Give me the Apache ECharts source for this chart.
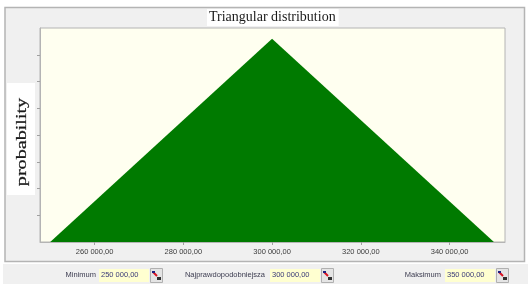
<!DOCTYPE html>
<html>
<head>
<meta charset="utf-8">
<style>html,body{margin:0;padding:0;background:#fff}#main{width:529px;height:288px}</style>
<script src="https://cdn.jsdelivr.net/npm/echarts@6/dist/echarts.min.js"></script>
</head>
<body>
<div id="main"></div>
<script>
var xValues = [250000, 300000, 350000];
var probability = [0, 7.6, 0];
var xTicks = [260000, 280000, 300000, 320000, 340000];
var yTicks = [1, 2, 3, 4, 5, 6, 7];
var paramLabels = ['Minimum', 'Najprawdopodobniejsza', 'Maksimum'];
var paramValues = ['250 000,00', '300 000,00', '350 000,00'];

var chart = echarts.init(document.getElementById('main'), null, {renderer: 'canvas'});

function formatX(v) {
    return String(v).replace(/\B(?=(\d{3})+$)/g, ' ') + ',00';
}

// one input row item: label, yellow field, small button
function param(i, labelRight, fieldLeft) {
    var y = 275;
    return [
        {type: 'text', z: 5, style: {x: labelRight, y: y, text: paramLabels[i], align: 'right', verticalAlign: 'middle',
            font: '7.5px "Liberation Sans"', fill: '#3c3c50'}},
        {type: 'rect', z: 5, shape: {x: fieldLeft, y: y - 6, width: 50, height: 13}, style: {fill: '#ffffd0'}},
        {type: 'text', z: 6, style: {x: fieldLeft + 2, y: y, text: paramValues[i], verticalAlign: 'middle',
            font: '7.5px "Liberation Sans"', fill: '#3a3a78'}},
        {type: 'rect', z: 5, shape: {x: fieldLeft + 51.5, y: y - 6.5, width: 12, height: 14}, style: {fill: '#e4e4e4', stroke: '#b0b0b0', lineWidth: 1}},
        {type: 'line', z: 6, shape: {x1: fieldLeft + 54, y1: y - 3, x2: fieldLeft + 58, y2: y + 1}, style: {stroke: '#d81020', lineWidth: 2}},
        {type: 'rect', z: 6, shape: {x: fieldLeft + 53, y: y - 4, width: 3, height: 2}, style: {fill: '#202080'}},
        {type: 'rect', z: 6, shape: {x: fieldLeft + 58, y: y + 2, width: 4, height: 3}, style: {fill: '#303030'}}
    ];
}

var option = {
    animation: false,
    backgroundColor: '#ffffff',
    title: {
        text: 'Triangular distribution',
        left: 207, top: 9,
        padding: [1, 3, 1, 2],
        backgroundColor: '#ffffff',
        textStyle: {fontFamily: 'Liberation Serif', fontWeight: 'normal', fontSize: 14, color: '#1a1a1a', lineHeight: 15}
    },
    graphic: [
        {type: 'rect', z: -10, shape: {x: 3, y: 264, width: 525, height: 20}, style: {fill: '#f0f0f0'}},
        {type: 'rect', z: -9, shape: {x: 5, y: 7.5, width: 519.5, height: 254}, style: {fill: '#f0f0f0', stroke: '#b4b4b4', lineWidth: 1.5}},
        {type: 'rect', z: -8, shape: {x: 7, y: 83, width: 28, height: 112}, style: {fill: '#ffffff'}},
        {type: 'text', z: 5, rotation: Math.PI / 2, x: 22.5, y: 142, scaleX: 1.06, scaleY: 0.8, style: {text: 'probability', align: 'center', verticalAlign: 'middle',
            font: '19px "Liberation Serif"', fill: '#1a1a1a', stroke: '#1a1a1a', lineWidth: 0.3}}
    ].concat(param(0, 96, 99), param(1, 265, 270), param(2, 441, 445)),
    grid: {left: 40, right: 24, top: 28, bottom: 46, backgroundColor: '#fffff0', show: true, borderColor: '#b4b4b4', borderWidth: 1},
    xAxis: {
        type: 'value', min: 247700, max: 352500,
        splitLine: {show: false},
        axisLine: {show: true, lineStyle: {color: '#b4b4b4'}},
        axisTick: {show: true, customValues: xTicks, length: 3, lineStyle: {color: '#a0a0a0'}},
        axisLabel: {customValues: xTicks, formatter: formatX, fontFamily: 'Liberation Sans', fontSize: 7.5, color: '#3c3c3c', margin: 6}
    },
    yAxis: {
        type: 'value', min: 0, max: 8,
        splitLine: {show: false},
        axisLine: {show: true, lineStyle: {color: '#b4b4b4'}},
        axisTick: {show: true, customValues: yTicks, length: 3, lineStyle: {color: '#a0a0a0'}},
        axisLabel: {show: false}
    },
    series: [{
        type: 'line',
        data: xValues.map(function (x, i) { return [x, probability[i]]; }),
        symbol: 'none',
        lineStyle: {color: '#007a00', width: 0},
        areaStyle: {color: '#007a00', opacity: 1}
    }]
};
chart.setOption(option);
</script>
</body>
</html>
